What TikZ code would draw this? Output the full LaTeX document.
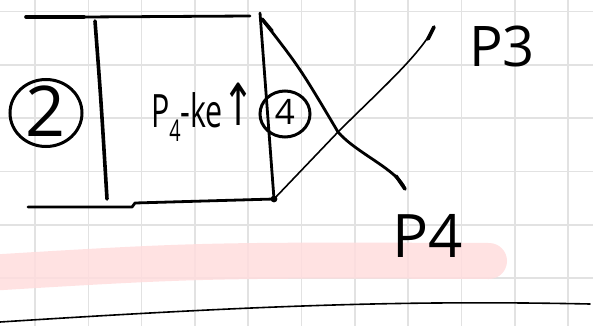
\documentclass[tikz,border=0pt]{standalone}
\usepackage{fontspec}
\usetikzlibrary{shapes.geometric}
\setmainfont{Open Sans}
\newfontfamily\dejavu{DejaVu Sans}
\definecolor{gridgrey}{HTML}{E2E2E2}
\definecolor{bandpink}{HTML}{FFDDDE}
\begin{document}
\begin{tikzpicture}[x=1pt,y=-1pt,
  gridline/.style={draw=gridgrey, line width=1.6pt},
  ink/.style={line width=3.6pt, line cap=round, line join=round},
  pen/.style={line width=2.8pt, line cap=round, line join=round},
  fine/.style={line width=1.6pt, line cap=round, line join=round},
  ringed/.style={draw, ellipse, line width=3pt, inner sep=0pt},
  label/.style={inner sep=0pt, anchor=center}]
\useasboundingbox (0,0) rectangle (593,326);
\fill[white] (0,0) rectangle (593,326);
% grid
\foreach \i in {0,...,10} \draw[gridline] ({35+53.3*\i},0) -- ({35+53.3*\i},326);
\foreach \i in {0,...,5} \draw[gridline] (0,{11.5+53.3*\i}) -- (593,{11.5+53.3*\i});
% highlighter band
\draw[bandpink, draw opacity=0.85, line width=36pt, line cap=round] (-30,274) .. controls (200,260) .. (489,261);
% named corner points
\coordinate (tl) at (26,17);
\coordinate (tm) at (84,17);
\coordinate (tr) at (250,16);
\coordinate (lvt) at (95,21);
\coordinate (lvb) at (107,199);
\coordinate (bl) at (28,207);
\coordinate (bs) at (132,207);
\coordinate (bs2) at (135,203);
\coordinate (br) at (274,199);
\coordinate (rvt) at (260,13);
\coordinate (mid) at (338,132);
% box strokes
\draw[ink] (tl) -- (tm);
\draw[pen] (tm) -- (tr);
\draw[ink] (lvt) .. controls (101,100) .. (lvb);
\draw[pen] (bl) -- (bs) -- (bs2) -- (br);
\draw[pen] (rvt) -- (br);
\fill (br) circle (3.4pt);
% crossing curves
\draw[ink] (262,19) -- (272,31);
\draw[pen] (262,19) .. controls (300,68) .. (mid) .. controls (356,153) and (398,170) .. (405,189);
\draw[fine] (br) .. controls (306,165) .. (mid) .. controls (380,90) and (420,55) .. (434,27);
\draw[ink] (428,39) -- (434,27);
\draw[ink] (396,176) -- (405,189);
% labels
\node[ringed, minimum width=72pt, minimum height=67pt] (c2) at (46,113) {};
\node[label, font=\fontsize{70}{70}\selectfont] (n2) at (46,111) {2};
\node[ringed, minimum width=50pt, minimum height=46pt] (c4) at (285,114) {};
\node[label, font=\fontsize{35}{35}\selectfont] (n4) at (285,112) {4};
\node[label, font=\fontsize{46}{46}\selectfont] (pk) at (203,112) {\scalebox{0.66}[1]{P\raisebox{-0.3em}{\fontsize{30}{30}\selectfont 4}-ke\raisebox{0.05em}{\fontsize{58}{58}\selectfont\dejavu ↑}}};
\node[label, font=\fontsize{56}{56}\selectfont] (p3) at (502,46) {P3};
\node[label, font=\fontsize{60}{60}\selectfont] (p4) at (428,236) {P4};
% bottom line
\draw[fine] (0,322) .. controls (250,306) and (400,300) .. (590,304);
\end{tikzpicture}
\end{document}
